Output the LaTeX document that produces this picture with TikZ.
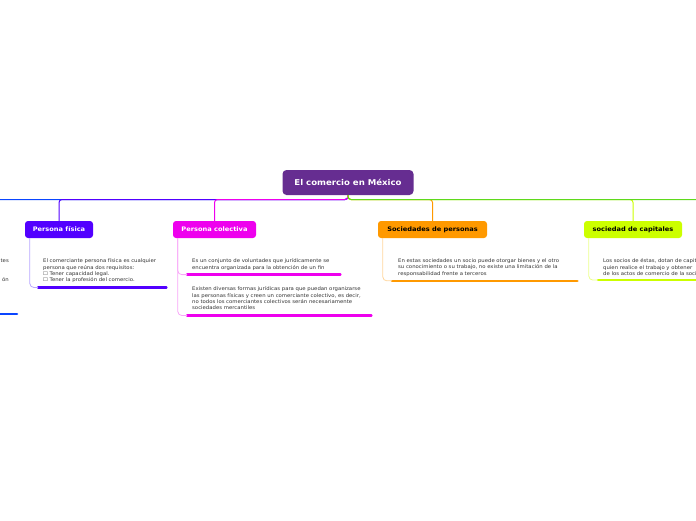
\documentclass[tikz,border=0pt]{standalone}
\usepackage{fontspec}
\setmainfont[FakeStretch=1.07]{DejaVu Sans}
\usetikzlibrary{calc}

\definecolor{mainc}{HTML}{662D91}
\definecolor{fisc}{HTML}{5200FF}
\definecolor{fisl}{HTML}{B9A8FF}
\definecolor{colc}{HTML}{EE00EE}
\definecolor{coll}{HTML}{F8A6F8}
\definecolor{socpc}{HTML}{FF9900}
\definecolor{socpl}{HTML}{FFD69C}
\definecolor{soccc}{HTML}{CCFF00}
\definecolor{soccl}{HTML}{EBFF8C}
\definecolor{blueb}{HTML}{0A45FF}
\definecolor{greenb}{HTML}{5FD91C}
\definecolor{notec}{HTML}{333333}

\tikzset{
  topic/.style={rounded corners=3pt, minimum height=17pt, inner xsep=0pt,
    font=\fontsize{6.2}{7}\selectfont\bfseries},
  note/.style={anchor=north west, inner sep=0pt, align=left, text=notec,
    font=\fontsize{5}{6.4}\selectfont},
  link/.style={line width=1pt, rounded corners=3pt},
  sublink/.style={line width=0.8pt, rounded corners=4pt},
  bar/.style={line width=2.6pt, line cap=round},
}

\begin{document}
\begin{tikzpicture}[x=1pt, y=-1pt]
    \clip (0,0) rectangle (696,520);
    \node[fill=mainc, text=white, rounded corners=4pt, minimum width=131pt, minimum height=25pt,
      font=\fontsize{8}{9}\selectfont\bfseries] (mexico) at (348,182.5) {El comercio en México};
    \node[topic, fill=fisc, text=white, minimum width=68pt] (fisica) at (59,229.5) {Persona física};
    \node[topic, fill=colc, text=white, minimum width=83pt] (colectiva) at (214.5,229.5) {Persona colectiva};
    \node[topic, fill=socpc, text=black, minimum width=109pt] (socper) at (432.5,229.5) {Sociedades de personas};
    \node[topic, fill=soccc, text=black, minimum width=98pt] (soccap) at (633,229.5) {sociedad de capitales};
    \coordinate (hub) at (348,199.5);
    \coordinate (offleft) at (-30,199.5);
    \coordinate (offright) at (730,199.5);

    % branches from the central topic
    \draw[link, blueb] (mexico.south) -- (hub) -- (offleft);
    \draw[link, fisc] (mexico.south) -- (hub) -| (fisica.north);
    \draw[link, colc] (mexico.south) -- (hub) -| (colectiva.north);
    \draw[link, socpc] (mexico.south) -- (hub) -| (socper.north);
    \draw[link, soccc] (mexico.south) -- (hub) -| (soccap.north);
    \draw[link, greenb] (mexico.south) -- (hub) -- (offright);

    % notes
    \node[note, text width=123pt] (fisnote) at (43,258.5)
      {El comerciante persona física es cualquier\\ persona que reúna dos requisitos:\\
       ☐ Tener capacidad legal.\\ ☐ Tener la profesión del comercio.};
    \node[note, text width=148pt] (colnotea) at (192,258.5)
      {Es un conjunto de voluntades que jurídicamente se\\ encuentra organizada para la obtención de un fin};
    \node[note, text width=179pt] (colnoteb) at (192,286.5)
      {Existen diversas formas jurídicas para que puedan organizarse\\
       las personas físicas y creen un comerciante colectivo, es decir,\\
       no todos los comerciantes colectivos serán necesariamente\\ sociedades mercantiles};
    \node[note, text width=179pt] (socpernote) at (398,258.5)
      {En estas sociedades un socio puede otorgar bienes y el otro\\
       su conocimiento o su trabajo, no existe una limitación de la\\ responsabilidad frente a terceros};
    \node[note, text width=200pt] (soccapnote) at (603,258.5)
      {Los socios de éstas, dotan de capital\\ quien realice el trabajo y obtener\\ de los actos de comercio de la sociedad};
    \node[note, anchor=north east, align=right] (leftnote) at (9,258.5) {tes\\[12.8pt]ón};
    \coordinate (leftbar) at (-30,314);
    \coordinate (leftbarend) at (17,314);

    % underlines
    \draw[bar, fisc] ($(fisnote.south west)+(-5,4.3)$) -- ($(fisnote.south east)+(0,4.3)$);
    \draw[bar, colc] ($(colnotea.south west)+(-5,4.3)$) -- ($(colnotea.south east)+(0,4.3)$);
    \draw[bar, colc] ($(colnoteb.south west)+(-5,5.3)$) -- ($(colnoteb.south east)+(0,5.3)$);
    \draw[bar, socpc] ($(socpernote.south west)+(-6,4.3)$) -- ($(socpernote.south east)+(0,4.3)$);
    \draw[bar, soccc] ($(soccapnote.south west)+(-5,4.3)$) -- ($(soccapnote.south east)+(0,4.3)$);
    \draw[bar, blueb] (leftbar) -- (leftbarend);

    % links from topics to notes
    \draw[sublink, fisl] ($(fisica.south west)+(5,0)$) |- ($(fisnote.south west)+(-5,4.3)$);
    \draw[sublink, coll] ($(colectiva.south west)+(5,0)$) |- ($(colnotea.south west)+(-5,4.3)$);
    \draw[sublink, coll] ($(colectiva.south west)+(5,0)$) |- ($(colnoteb.south west)+(-5,5.3)$);
    \draw[sublink, socpl] ($(socper.south west)+(5,0)$) |- ($(socpernote.south west)+(-6,4.3)$);
    \draw[sublink, soccl] ($(soccap.south west)+(5,0)$) |- ($(soccapnote.south west)+(-5,4.3)$);
\end{tikzpicture}
\end{document}
